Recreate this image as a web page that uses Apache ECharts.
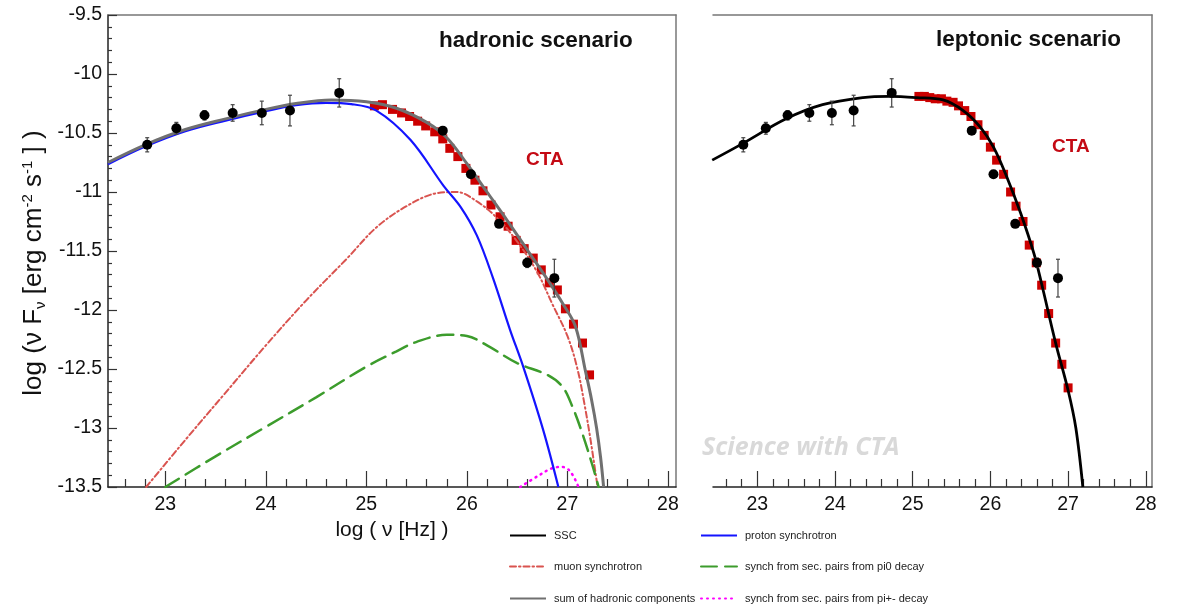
<!DOCTYPE html>
<html>
<head>
<meta charset="utf-8">
<script src="https://cdn.jsdelivr.net/npm/echarts@6/dist/echarts.min.js"></script>
<style>
  html, body { margin: 0; padding: 0; background: #fff; }
  #chart { width: 1178px; height: 606px; }
</style>
</head>
<body>
<div id="chart"></div>
<script>
// measured data points (both panels), log nu / log nuFnu
const dataX = [22.82, 23.11, 23.39, 23.67, 23.96, 24.24, 24.73, 25.76, 26.04, 26.32, 26.60, 26.87];
const dataY = [-10.60, -10.46, -10.35, -10.33, -10.33, -10.31, -10.16, -10.48, -10.85, -11.27, -11.60, -11.73];
const dataErr = [0.06, 0.05, 0.04, 0.07, 0.10, 0.13, 0.12, 0, 0, 0, 0.04, 0.16];

// simulated CTA points
const ctaHadX = [25.08, 25.16, 25.26, 25.35, 25.43, 25.51, 25.59, 25.68, 25.76, 25.83, 25.91, 25.99, 26.08, 26.16,
  26.24, 26.33, 26.41, 26.49, 26.57, 26.66, 26.74, 26.82, 26.90, 26.98, 27.06, 27.15, 27.22];
const ctaHadY = [-10.27, -10.26, -10.30, -10.33, -10.36, -10.40, -10.44, -10.49, -10.55, -10.63, -10.70, -10.80, -10.90, -10.99,
  -11.11, -11.21, -11.29, -11.41, -11.48, -11.56, -11.66, -11.77, -11.83, -11.99, -12.12, -12.28, -12.55];
const ctaLepX = [25.08, 25.15, 25.22, 25.29, 25.37, 25.44, 25.52, 25.59, 25.67, 25.75, 25.84, 25.92, 26.00, 26.08,
  26.17, 26.26, 26.33, 26.42, 26.50, 26.59, 26.66, 26.75, 26.84, 26.92, 27.00];
const ctaLepY = [-10.19, -10.19, -10.20, -10.21, -10.21, -10.23, -10.24, -10.27, -10.31, -10.36, -10.43, -10.52, -10.62, -10.73,
  -10.85, -11.00, -11.12, -11.25, -11.45, -11.60, -11.79, -12.03, -12.28, -12.46, -12.66];

// model curves
const protonSync = [[22.43, -10.765], [22.8, -10.615], [23.2, -10.485], [23.6, -10.395], [24.0, -10.315], [24.3, -10.265],
  [24.6, -10.245], [24.85, -10.255], [25.1, -10.31], [25.44, -10.56], [25.77, -10.95], [25.94, -11.13], [26.1, -11.37],
  [26.26, -11.73], [26.43, -12.17], [26.56, -12.48], [26.76, -13.02], [26.91, -13.5]];
const hadronSum = [[22.43, -10.75], [22.8, -10.60], [23.2, -10.47], [23.6, -10.38], [24.0, -10.30], [24.3, -10.25],
  [24.65, -10.22], [25.0, -10.235], [25.3, -10.29], [25.6, -10.41], [25.8, -10.54], [26.0, -10.76], [26.2, -11.0],
  [26.4, -11.24], [26.6, -11.49], [26.8, -11.74], [26.95, -11.94], [27.08, -12.14], [27.18, -12.52], [27.24, -12.76],
  [27.29, -13.0], [27.33, -13.25], [27.36, -13.5]];
const muonSync = [[22.81, -13.5], [23.2, -13.1], [23.6, -12.7], [24.0, -12.3], [24.4, -11.92], [24.8, -11.57],
  [25.1, -11.3], [25.4, -11.12], [25.7, -11.01], [25.9, -11.0], [26.1, -11.08], [26.3, -11.22], [26.5, -11.42],
  [26.7, -11.68], [26.85, -11.95], [27.0, -12.22], [27.1, -12.5], [27.17, -12.8], [27.23, -13.1], [27.3, -13.5]];
const pi0Pairs = [[23.0, -13.5], [23.5, -13.24], [24.0, -12.99], [24.5, -12.74], [25.0, -12.48], [25.3, -12.35],
  [25.5, -12.27], [25.8, -12.21], [26.0, -12.22], [26.2, -12.30], [26.5, -12.45], [26.8, -12.55], [26.95, -12.65],
  [27.05, -12.82], [27.15, -13.05], [27.25, -13.32], [27.31, -13.5]];
const piPmPairs = [[26.53, -13.5], [26.7, -13.41], [26.85, -13.34], [26.95, -13.33], [27.03, -13.37], [27.11, -13.5]];
const sscModel = [[22.42, -10.73], [22.81, -10.59], [23.37, -10.38], [23.84, -10.26], [24.36, -10.20], [24.70, -10.19],
  [25.05, -10.20], [25.39, -10.22], [25.65, -10.31], [25.87, -10.45], [26.04, -10.62], [26.21, -10.87], [26.39, -11.18],
  [26.56, -11.52], [26.66, -11.78], [26.84, -12.28], [27.0, -12.68], [27.1, -13.0], [27.19, -13.5]];

const majorTicks = [23, 24, 25, 26, 27, 28];
const minorTicks = [];
for (let v = 226; v <= 280; v += 2) { if (v % 10) minorTicks.push(v / 10); }

const X_MIN = 22.43, X_MAX = 28.08;
const font = 'Liberation Sans, Arial, sans-serif';

const chart = echarts.init(document.getElementById('chart'));

function pts(xs, ys) { return xs.map((x, i) => [x, ys[i]]); }
function errs() { return dataX.map((x, i) => [x, dataY[i], dataErr[i]]); }

function errRender(params, api) {
  const x = api.value(0), y = api.value(1), e = api.value(2);
  if (!e) return null;
  const t = api.coord([x, y + e]), b = api.coord([x, y - e]);
  const st = { stroke: '#444', lineWidth: 1.2 };
  return {
    type: 'group', children: [
      { type: 'line', shape: { x1: t[0], y1: t[1], x2: b[0], y2: b[1] }, style: st },
      { type: 'line', shape: { x1: t[0] - 2, y1: t[1], x2: t[0] + 2, y2: t[1] }, style: st },
      { type: 'line', shape: { x1: b[0] - 2, y1: b[1], x2: b[0] + 2, y2: b[1] }, style: st }
    ]
  };
}

function xAxes(grid, withName) {
  return [
    { // major ticks + labels
      gridIndex: grid, type: 'value', min: X_MIN, max: X_MAX, position: 'bottom',
      axisLine: { show: true, lineStyle: { color: '#222', width: 1.5 } },
      axisTick: { show: true, inside: true, length: 16, customValues: majorTicks, lineStyle: { color: '#333', width: 1.2 } },
      axisLabel: { customValues: majorTicks, fontSize: 19.5, color: '#111', fontFamily: font, margin: 8 },
      splitLine: { show: false },
      name: withName ? 'log ( ν [Hz] )' : '', nameLocation: 'middle', nameGap: 27,
      nameTextStyle: { fontSize: 21, color: '#111', fontFamily: font }
    },
    { // minor ticks
      gridIndex: grid, type: 'value', min: X_MIN, max: X_MAX, position: 'bottom',
      axisLine: { show: false },
      axisTick: { show: true, inside: true, length: 8, customValues: minorTicks, lineStyle: { color: '#333', width: 1.2 } },
      axisLabel: { show: false }, splitLine: { show: false }
    },
    { // top frame
      gridIndex: grid, type: 'value', min: X_MIN, max: X_MAX, position: 'top',
      axisLine: { show: true, lineStyle: { color: '#777', width: 1.5 } },
      axisTick: { show: false }, axisLabel: { show: false }, splitLine: { show: false }
    }
  ];
}

function curve(name, data, color, width, type, xi, yi) {
  return {
    name: name, type: 'line', xAxisIndex: xi, yAxisIndex: yi, symbol: 'none', smooth: 0.35,
    itemStyle: { color: color },
    lineStyle: { color: color, width: width, type: type, cap: type === 'solid' ? 'butt' : 'round' },
    z: 3, data: data
  };
}

const option = {
  backgroundColor: '#fff',
  animation: false,
  grid: [
    { left: 108, top: 15, width: 568, height: 472 },
    { left: 713, top: 15, width: 439, height: 472 }
  ],
  xAxis: [...xAxes(0, true), ...xAxes(1, false)],
  yAxis: [
    {
      gridIndex: 0, type: 'value', min: -13.5, max: -9.5, interval: 0.5, position: 'left',
      axisLine: { show: true, lineStyle: { color: '#222', width: 1.5 } },
      axisTick: { show: true, inside: true, length: 9, lineStyle: { color: '#333', width: 1.2 } },
      minorTick: { show: true, splitNumber: 5, length: 4, lineStyle: { color: '#333', width: 1.2 } },
      axisLabel: { fontSize: 19.5, color: '#111', fontFamily: font, margin: 6 },
      splitLine: { show: false },
      name: 'log (ν F{sub|ν} [erg cm{sup|-2} s{sup|-1} ] )',
      nameLocation: 'middle', nameRotate: 90, nameGap: 60,
      nameTextStyle: {
        fontSize: 26, color: '#111', fontFamily: font, lineHeight: 28, padding: [0, 24, 0, 0],
        rich: {
          sub: { fontSize: 15, fontFamily: font, color: '#111', verticalAlign: 'bottom', lineHeight: 28 },
          sup: { fontSize: 15, fontFamily: font, color: '#111', verticalAlign: 'top', lineHeight: 28 }
        }
      }
    },
    {
      gridIndex: 0, type: 'value', min: -13.5, max: -9.5, position: 'right',
      axisLine: { show: true, lineStyle: { color: '#777', width: 1.5 } },
      axisTick: { show: false }, axisLabel: { show: false }, splitLine: { show: false }
    },
    { gridIndex: 1, type: 'value', min: -13.5, max: -9.5, show: false },
    {
      gridIndex: 1, type: 'value', min: -13.5, max: -9.5, position: 'right',
      axisLine: { show: true, lineStyle: { color: '#777', width: 1.5 } },
      axisTick: { show: false }, axisLabel: { show: false }, splitLine: { show: false }
    }
  ],
  title: [
    { text: 'hadronic scenario', left: 439, top: 29, padding: 0,
      textStyle: { fontSize: 22.5, fontWeight: 'bold', color: '#111', fontFamily: font } },
    { text: 'leptonic scenario', left: 936, top: 28, padding: 0,
      textStyle: { fontSize: 22.5, fontWeight: 'bold', color: '#111', fontFamily: font } },
    { text: 'CTA', left: 526, top: 150, padding: 0,
      textStyle: { fontSize: 19, fontWeight: 'bold', color: '#c40a14', fontFamily: font } },
    { text: 'CTA', left: 1052, top: 137, padding: 0,
      textStyle: { fontSize: 19, fontWeight: 'bold', color: '#c40a14', fontFamily: font } },
    { text: 'Science with CTA', left: 702, top: 435, padding: 0,
      textStyle: { fontSize: 25, fontWeight: 'bold', fontStyle: 'italic', color: '#d9d9d9', fontFamily: 'Open Sans' } }
  ],
  legend: [
    ['SSC', 509, 530], ['proton synchrotron', 700, 530],
    ['muon synchrotron', 509, 561], ['synch from sec. pairs from pi0 decay', 700, 561],
    ['sum of hadronic components', 509, 593], ['synch from sec. pairs from pi+- decay', 700, 593]
  ].map(([n, l, t]) => ({
    data: [n], left: l, top: t, padding: 0, itemWidth: 36, itemHeight: 12, itemGap: 0,
    selectedMode: false,
    itemStyle: { color: 'rgba(0,0,0,0)', borderWidth: 0, opacity: 0 },
    textStyle: { fontSize: 11, color: '#222', fontFamily: font, padding: [0, 0, 0, 3] }
  })),
  series: [
    { name: 'CTA hadronic', type: 'scatter', xAxisIndex: 0, yAxisIndex: 0, symbol: 'rect', symbolSize: 9,
      itemStyle: { color: '#cc0000', opacity: 1 }, z: 2, data: pts(ctaHadX, ctaHadY) },
    curve('muon synchrotron', muonSync, '#d9534f', 2, [6, 3, 1.5, 3], 0, 0),
    curve('synch from sec. pairs from pi0 decay', pi0Pairs, '#3c9c2c', 2.5, [16, 8], 0, 0),
    curve('synch from sec. pairs from pi+- decay', piPmPairs, '#ff00ff', 2.5, [1, 5], 0, 0),
    curve('proton synchrotron', protonSync, '#1414ff', 2.2, 'solid', 0, 0),
    curve('sum of hadronic components', hadronSum, '#707070', 3, 'solid', 0, 0),
    { name: 'err hadronic', type: 'custom', xAxisIndex: 0, yAxisIndex: 0, renderItem: errRender, z: 4, data: errs() },
    { name: 'data hadronic', type: 'scatter', xAxisIndex: 0, yAxisIndex: 0, symbol: 'circle', symbolSize: 10,
      itemStyle: { color: '#000', opacity: 1 }, z: 5, data: pts(dataX, dataY) },

    { name: 'CTA leptonic', type: 'scatter', xAxisIndex: 3, yAxisIndex: 2, symbol: 'rect', symbolSize: 9,
      itemStyle: { color: '#cc0000', opacity: 1 }, z: 2, data: pts(ctaLepX, ctaLepY) },
    curve('SSC', sscModel, '#000', 2.8, 'solid', 3, 2),
    { name: 'err leptonic', type: 'custom', xAxisIndex: 3, yAxisIndex: 2, renderItem: errRender, z: 4, data: errs() },
    { name: 'data leptonic', type: 'scatter', xAxisIndex: 3, yAxisIndex: 2, symbol: 'circle', symbolSize: 10,
      itemStyle: { color: '#000', opacity: 1 }, z: 5, data: pts(dataX, dataY) }
  ]
};

chart.setOption(option);
</script>
</body>
</html>
